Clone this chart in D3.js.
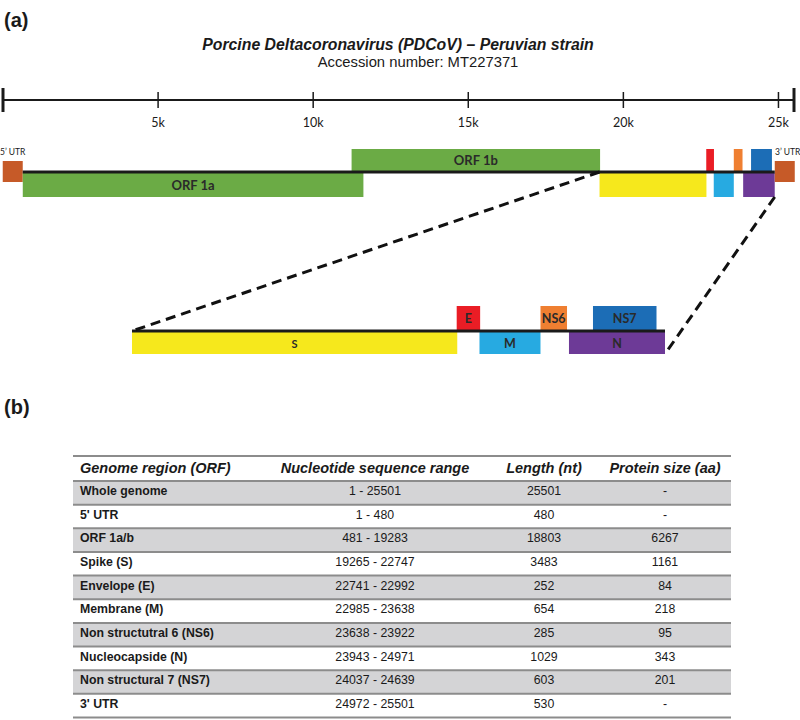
<!DOCTYPE html>
<html><head><meta charset="utf-8">
<script src="https://cdn.jsdelivr.net/npm/d3@7"></script>
<style>body{margin:0;background:#fff}</style></head>
<body><svg id="c" width="800" height="720"></svg>
<script>
// ---------------- data ----------------
const genomeLength = 25501;
const axisTicks = [5000, 10000, 15000, 20000, 25000];
const tickLabels = ["5k", "10k", "15k", "20k", "25k"];

const geneNames  = ["5\u2019 UTR", "ORF 1a", "ORF 1b", "S", "E", "M", "NS6", "N", "NS7", "3\u2019 UTR"];
const geneKeys   = ["UTR5", "ORF1a", "ORF1b", "S", "E", "M", "NS6", "N", "NS7", "UTR3"];
const trackStart = [1, 481, 11190, 19265, 22741, 22985, 23638, 23943, 24200, 24972];
const trackEnd   = [480, 11575, 19283, 22747, 22992, 23638, 23922, 24971, 24880, 25501];
const geneLane   = ["utr", "below", "above", "below", "above", "below", "above", "below", "above", "utr"];
const zoomGenes  = ["S", "E", "M", "NS6", "N", "NS7"];

const tableHeaders = ["Genome region (ORF)", "Nucleotide sequence range", "Length (nt)", "Protein size (aa)"];
const regionNames  = ["Whole genome", "5' UTR", "ORF 1a/b", "Spike (S)", "Envelope (E)", "Membrane (M)",
  "Non structutral 6 (NS6)", "Nucleocapside (N)", "Non structural 7 (NS7)", "3' UTR"];
const seqRanges    = ["1 - 25501", "1 - 480", "481 - 19283", "19265 - 22747", "22741 - 22992", "22985 - 23638",
  "23638 - 23922", "23943 - 24971", "24037 - 24639", "24972 - 25501"];
const lengthsNt    = ["25501", "480", "18803", "3483", "252", "654", "285", "1029", "603", "530"];
const proteinAa    = ["-", "-", "6267", "1161", "84", "218", "95", "343", "201", "-"];

// ---------------- styles ----------------
const colors = {UTR5:"#c65a28", UTR3:"#c65a28", ORF1a:"#6bab45", ORF1b:"#6bab45", S:"#f6e81c",
  E:"#ea1d25", M:"#27aae1", NS6:"#ef7f31", N:"#6d3a97", NS7:"#1c6db6"};
const sans = "'Liberation Sans', Arial, sans-serif";
const cal = "Lato, 'Open Sans', sans-serif";

const genes = geneKeys.map((k, i) => ({key:k, name:geneNames[i], start:trackStart[i], end:trackEnd[i], lane:geneLane[i]}));
const byKey = Object.fromEntries(genes.map(g => [g.key, g]));

const svg = d3.select("#c");

// ---------------- panel labels & titles ----------------
svg.append("text").attr("x", 4).attr("y", 27).text("(a)")
  .style("font-family", sans).style("font-weight", "bold").style("font-size", "20px").attr("fill", "#1a1a1a");
svg.append("text").attr("x", 4).attr("y", 414).text("(b)")
  .style("font-family", sans).style("font-weight", "bold").style("font-size", "20px").attr("fill", "#1a1a1a");
svg.append("text").attr("x", 398).attr("y", 50).attr("text-anchor", "middle")
  .text("Porcine Deltacoronavirus (PDCoV) \u2013 Peruvian strain")
  .style("font-family", sans).style("font-weight", "bold").style("font-style", "italic").style("font-size", "15.8px").attr("fill", "#1a1a1a");
svg.append("text").attr("x", 418).attr("y", 67).attr("text-anchor", "middle")
  .text("Accession number: MT227371")
  .style("font-family", sans).style("font-size", "14.8px").attr("fill", "#1a1a1a");

// ---------------- axis ----------------
const axisX = d3.scaleLinear().domain([0, genomeLength]).range([3, 794]);
const axisY = 100;
const ax = svg.append("g");
ax.append("line").attr("x1", axisX(0)).attr("x2", axisX(genomeLength)).attr("y1", axisY).attr("y2", axisY)
  .attr("stroke", "#1a1a1a").attr("stroke-width", 2);
ax.selectAll("line.end").data([0, genomeLength]).join("line").attr("class", "end")
  .attr("x1", d => axisX(d)).attr("x2", d => axisX(d)).attr("y1", axisY - 12).attr("y2", axisY + 12)
  .attr("stroke", "#1a1a1a").attr("stroke-width", 3);
ax.selectAll("line.tk").data(axisTicks).join("line").attr("class", "tk")
  .attr("x1", d => axisX(d)).attr("x2", d => axisX(d)).attr("y1", axisY - 8).attr("y2", axisY + 8)
  .attr("stroke", "#1a1a1a").attr("stroke-width", 1.5);
ax.selectAll("text").data(axisTicks).join("text")
  .attr("x", d => axisX(d)).attr("y", axisY + 27).attr("text-anchor", "middle")
  .text((d, i) => tickLabels[i])
  .style("font-family", cal).style("font-size", "12.5px").attr("fill", "#1a1a1a");

// ---------------- genome track ----------------
const trackX = d3.scaleLinear().domain([0, genomeLength]).range([8, 791]);
const tY = 172;
const tg = svg.append("g");
function laneBox(g, x, lineY, aboveH, belowH) {
  if (g.lane === "above") return {x0:x(g.start), x1:x(g.end), y0:lineY - 1 - aboveH, y1:lineY - 1};
  if (g.lane === "below") return {x0:x(g.start), x1:x(g.end), y0:lineY + 1, y1:lineY + 1 + belowH};
  return null;
}
const mainBoxes = genes.map(g => {
  let b = laneBox(g, trackX, tY, 22, 24);
  if (g.lane === "utr") {
    b = g.key === "UTR5" ? {x0:trackX(g.end) - 20, x1:trackX(g.end), y0:tY - 11, y1:tY + 10}
                          : {x0:trackX(g.start), x1:trackX(g.start) + 20, y0:tY - 11, y1:tY + 10};
  }
  return Object.assign({g}, b);
});
tg.selectAll("rect").data(mainBoxes).join("rect")
  .attr("x", d => d.x0).attr("y", d => d.y0).attr("width", d => d.x1 - d.x0).attr("height", d => d.y1 - d.y0)
  .attr("fill", d => colors[d.g.key]);
tg.append("line").attr("x1", trackX(byKey.UTR5.end)).attr("x2", trackX(byKey.UTR3.start))
  .attr("y1", tY).attr("y2", tY).attr("stroke", "#1a1a1a").attr("stroke-width", 3);
tg.selectAll("text.lab").data(mainBoxes.filter(d => d.g.key === "ORF1a" || d.g.key === "ORF1b")).join("text")
  .attr("class", "lab").attr("x", d => (d.x0 + d.x1) / 2).attr("y", d => (d.y0 + d.y1) / 2 + 4.5)
  .attr("text-anchor", "middle").text(d => d.g.name)
  .style("font-family", cal).style("font-weight", "bold").style("font-size", "13px").attr("fill", "#2a2a2a");
tg.selectAll("text.utr").data(mainBoxes.filter(d => d.g.lane === "utr")).join("text")
  .attr("class", "utr").attr("x", d => d.g.key === "UTR5" ? 0 : 775).attr("y", 155)
  .text(d => d.g.name)
  .style("font-family", cal).style("font-size", "8.5px").attr("fill", "#1a1a1a");

// ---------------- zoomed structural region ----------------
const zoomX = d3.scaleLinear().domain([byKey.S.start, byKey.N.end]).range([132, 665]);
const zY = 331;
const zg = svg.append("g");
const zBoxes = zoomGenes.map(k => Object.assign({g:byKey[k]}, laneBox(byKey[k], zoomX, zY, 24, 22)));
// dashed connectors
const dash = svg.append("g");
dash.append("line").attr("x1", trackX(byKey.S.start)).attr("y1", tY).attr("x2", zoomX(byKey.S.start)).attr("y2", zY)
  .attr("stroke", "#111").attr("stroke-width", 3).attr("stroke-dasharray", "10,6");
dash.append("line").attr("x1", trackX(byKey.N.end)).attr("y1", tY + 25).attr("x2", zoomX(byKey.N.end)).attr("y2", zY + 23)
  .attr("stroke", "#111").attr("stroke-width", 3).attr("stroke-dasharray", "10,6");

zg.selectAll("rect").data(zBoxes).join("rect")
  .attr("x", d => d.x0).attr("y", d => d.y0).attr("width", d => d.x1 - d.x0).attr("height", d => d.y1 - d.y0)
  .attr("fill", d => colors[d.g.key]);
zg.append("line").attr("x1", zoomX(byKey.S.start)).attr("x2", zoomX(byKey.N.end)).attr("y1", zY).attr("y2", zY)
  .attr("stroke", "#1a1a1a").attr("stroke-width", 3);
zg.selectAll("text").data(zBoxes).join("text")
  .attr("x", d => (d.x0 + d.x1) / 2).attr("y", d => (d.y0 + d.y1) / 2 + 4.5)
  .attr("text-anchor", "middle").text(d => d.g.name)
  .style("font-family", cal).style("font-weight", "bold").style("font-size", d => d.g.key === "S" ? "11px" : "12.5px")
  .attr("fill", "#2a2a2a");

// ---------------- table ----------------
const tbl = svg.append("g");
const tx0 = 73, tx1 = 731, headTop = 456, headBot = 481;
const rowH = (717.5 - headBot) / regionNames.length;
const colX = [80, 375, 544, 665];
const rows = regionNames.map((n, i) => [n, seqRanges[i], lengthsNt[i], proteinAa[i]]);
tbl.selectAll("rect").data(rows).join("rect")
  .attr("x", tx0).attr("width", tx1 - tx0).attr("y", (d, i) => headBot + i * rowH).attr("height", rowH)
  .attr("fill", (d, i) => i % 2 === 0 ? "#d4d4d6" : "#ffffff");
const lineYs = [headTop, headBot].concat(rows.map((d, i) => headBot + (i + 1) * rowH));
tbl.selectAll("line").data(lineYs).join("line")
  .attr("x1", tx0).attr("x2", tx1).attr("y1", d => d).attr("y2", d => d)
  .attr("stroke", "#8c8c8c").attr("stroke-width", 2);
tbl.selectAll("text.h").data(tableHeaders).join("text").attr("class", "h")
  .attr("x", (d, i) => colX[i]).attr("y", headBot - 8)
  .attr("text-anchor", (d, i) => i === 0 ? "start" : "middle").text(d => d)
  .style("font-family", sans).style("font-weight", "bold").style("font-style", "italic").style("font-size", "14.5px")
  .attr("fill", "#1a1a1a");
const cells = rows.flatMap((r, i) => r.map((v, j) => ({v, i, j})));
tbl.selectAll("text.c").data(cells).join("text").attr("class", "c")
  .attr("x", d => colX[d.j]).attr("y", d => headBot + d.i * rowH + 14)
  .attr("text-anchor", d => d.j === 0 ? "start" : "middle").text(d => d.v)
  .style("font-family", sans).style("font-weight", d => d.j === 0 ? "bold" : "normal").style("font-size", "12.3px")
  .attr("fill", "#1a1a1a");
</script>
</body></html>
